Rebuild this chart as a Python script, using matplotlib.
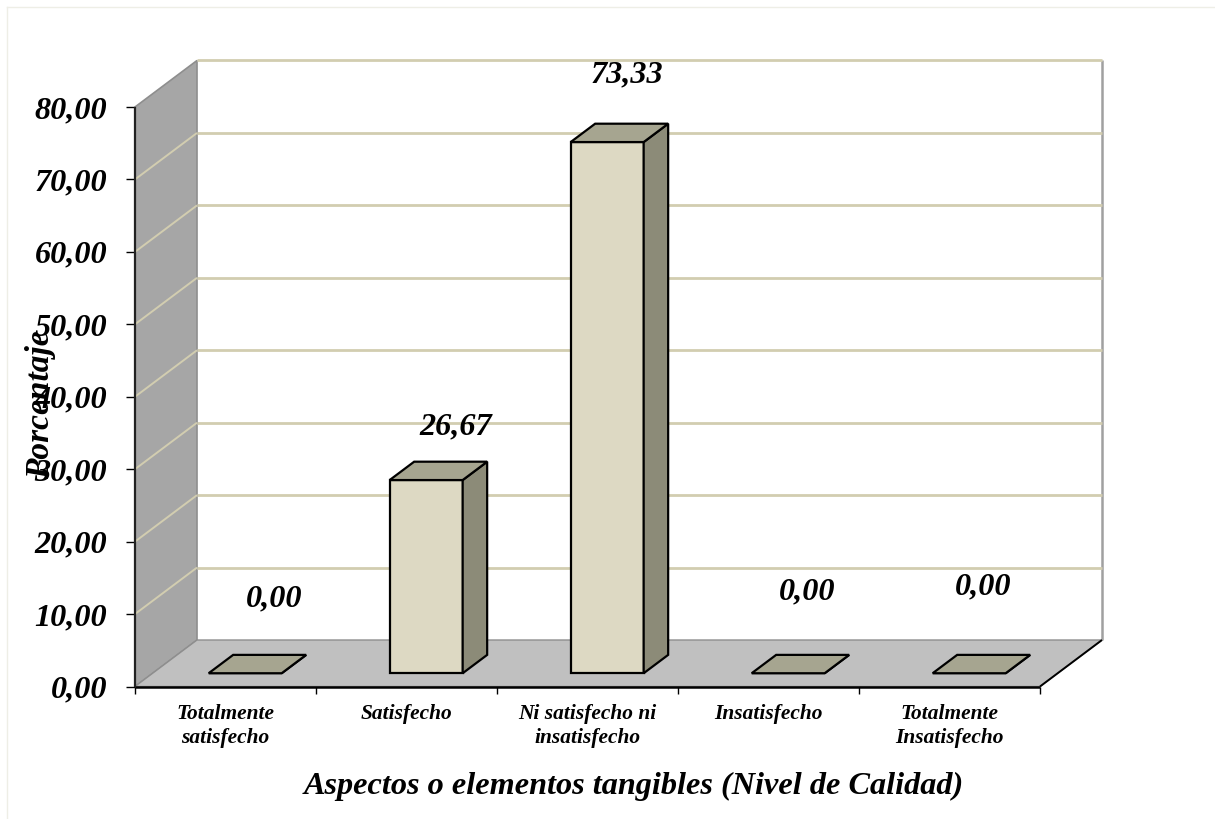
import matplotlib
matplotlib.use("Agg")
import matplotlib.pyplot as plt
from matplotlib.lines import Line2D
from matplotlib.patches import Polygon

categories = ["Totalmente\nsatisfecho", "Satisfecho", "Ni satisfecho ni\ninsatisfecho",
              "Insatisfecho", "Totalmente\nInsatisfecho"]
values = [0.00, 26.67, 73.33, 0.00, 0.00]
y_ticks = [0, 10, 20, 30, 40, 50, 60, 70, 80]
# pixel nudges of the value captions relative to each bar's centre top
caption_dx = [29, 30, 20, 19, 14]
caption_dy = [74, 53, 67, 81, 86]

W, H = 1215, 819
PX = 0.72  # points per pixel at 100 dpi
plt.rcParams["font.family"] = ["Liberation Serif", "DejaVu Serif"]
fig = plt.figure(figsize=(W / 100, H / 100), dpi=100, facecolor="white")
ax = fig.add_axes([135 / W, 1 - 686.5 / H, 905 / W, 579.5 / H])
ax.set_xlim(0, 5)
ax.set_ylim(0, 80)
ax.patch.set_visible(False)
for s in ax.spines.values():
    s.set_visible(False)

# oblique projection: depth 0 is the front plane, depth 1 the back wall
DX = 62 / (905 / 5)
DY = 46.5 / (579.5 / 80)


def proj(x, v, d=0.0):
    return (x + DX * d, v + DY * d)


def face(points, **kw):
    kw.setdefault("clip_on", False)
    kw.setdefault("joinstyle", "miter")
    ax.add_patch(Polygon([proj(*p) for p in points], closed=True, **kw))


def seg(x0, v0, d0, x1, v1, d1, **kw):
    a, b = proj(x0, v0, d0), proj(x1, v1, d1)
    ax.plot([a[0], b[0]], [a[1], b[1]], clip_on=False, solid_capstyle="butt", **kw)


GRID = "#D2CDB0"
WALL_EDGE = "#8E8E8E"

# walls and floor
face([(0, 0, 1), (5, 0, 1), (5, 80, 1), (0, 80, 1)], fc="white", lw=0, zorder=1)
face([(0, 0, 0), (0, 0, 1), (0, 80, 1), (0, 80, 0)], fc="#A6A6A6", ec=WALL_EDGE, lw=1.2, zorder=1)
face([(0, 0, 0), (5, 0, 0), (5, 0, 1), (0, 0, 1)], fc="#C0C0C0", ec=WALL_EDGE, lw=1.0, zorder=1.2)

# right wall edge
seg(5, 0, 1, 5, 80, 1, color="#A0A0A0", lw=1.8, zorder=1.3)

# gridlines along side wall and back wall
for v in y_ticks[1:]:
    if v < y_ticks[-1]:
        seg(0, v, 0, 0, v, 1, color=GRID, lw=1.4, zorder=1.5)
    seg(0, v, 1, 5, v, 1, color=GRID, lw=2.0, zorder=1.5)

# front and right floor edges, value axis line
seg(0, 0, 0, 5, 0, 0, color="black", lw=1.8, zorder=2)
seg(5, 0, 0, 5, 0, 1, color="black", lw=1.4, zorder=2)
seg(0, 0, 0, 0, 80, 0, color="#222222", lw=1.6, zorder=2)

# 3-D bars
BAR_W = 73 / (905 / 5)
BAR_SHIFT = 2 / (905 / 5)
D0, D1 = 0.285, 0.68
FRONT, TOP, SIDE = "#DDD9C3", "#A6A590", "#8C8B78"
for i, v in enumerate(values):
    x0 = i + 0.5 - BAR_W / 2 + BAR_SHIFT
    x1 = x0 + BAR_W
    style = dict(ec="black", lw=1.6, zorder=3)
    face([(x0, 0, D0), (x1, 0, D0), (x1, v, D0), (x0, v, D0)], fc=FRONT, **style)
    face([(x1, 0, D0), (x1, 0, D1), (x1, v, D1), (x1, v, D0)], fc=SIDE, **style)
    face([(x0, v, D0), (x1, v, D0), (x1, v, D1), (x0, v, D1)], fc=TOP, **style)
    ax.annotate(f"{v:.2f}".replace(".", ","), xy=proj((x0 + x1) / 2, v, D0),
                xytext=(caption_dx[i] * PX, caption_dy[i] * PX),
                textcoords="offset points", ha="center", va="center",
                fontsize=23.2, fontweight="bold", fontstyle="italic", zorder=5,
                annotation_clip=False)

# axis ticks and labels
ax.set_yticks(y_ticks)
ax.set_yticklabels([f"{t:.2f}".replace(".", ",") for t in y_ticks],
                   fontsize=23.2, fontweight="bold", fontstyle="italic")
ax.set_xticks(range(6))
ax.set_xticklabels([])
ax.set_xticks([i + 0.5 for i in range(5)], minor=True)
ax.set_xticklabels(categories, minor=True, fontsize=15.4, fontweight="bold",
                   fontstyle="italic", linespacing=1.25, va="top")
ax.tick_params(axis="y", length=6.5, width=1.0, pad=13.5)
ax.tick_params(axis="x", which="major", length=5, width=1.0)
ax.tick_params(axis="x", which="minor", length=0, pad=12.5)

fig.text(634 / W, 1 - 786 / H, "Aspectos o elementos tangibles (Nivel de Calidad)",
         ha="center", va="center", fontsize=23.2, fontweight="bold", fontstyle="italic")
fig.text(41 / W, 1 - 405 / H, "Porcentaje", rotation=90, ha="center", va="center",
         fontsize=24, fontweight="bold", fontstyle="italic", zorder=6)

# chart area frame, visible along the top and left only
FRAME = "#EEEEE6"
fig.add_artist(Line2D([7 / W, 1], [1 - 7 / H, 1 - 7 / H], color=FRAME, lw=1.0,
                      transform=fig.transFigure))
fig.add_artist(Line2D([7 / W, 7 / W], [0, 1 - 7 / H], color=FRAME, lw=1.0,
                      transform=fig.transFigure))

fig.savefig("out.png", dpi=100)
